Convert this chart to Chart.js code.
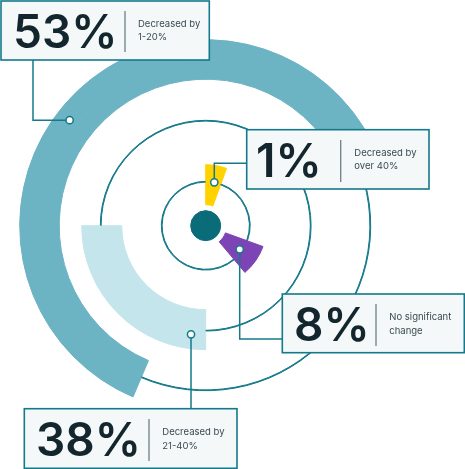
<!DOCTYPE html>
<html>
<head>
<meta charset="utf-8">
<script src="https://cdn.jsdelivr.net/npm/chart.js@4.4.1/dist/chart.umd.min.js"></script>
<style>
    html, body { margin: 0; background: #ffffff; }
    #wrap { position: relative; width: 465px; height: 469px; }
</style>
</head>
<body>
<div id="wrap"><canvas id="rings"></canvas></div>
<script>
// Shares of respondents per category
const categories = ['Decreased by 1-20%', 'Decreased by 21-40%', 'No significant change', 'Decreased by over 40%'];
const shares = [53, 38, 8, 1];
const shareLabels = ['53%', '38%', '8%', '1%'];
const captionLines = [['Decreased by', '1-20%'], ['Decreased by', '21-40%'], ['No significant', 'change'], ['Decreased by', 'over 40%']];
// Sweep of each drawn arc in degrees (not proportional to the share)
const arcSweep = [227, 90, 30, 20];

// Layout / style
const arcStart = [203, 180, 110, 0];       // degrees clockwise from 12 o'clock
const arcColors = ['#6cb3c3', '#c4e5ec', '#7c44b4', '#ffd200'];
const TEAL = '#14798a';
const DOT = '#0b6c79';
const INK = '#13262e';

// Build one ring: arcs placed at their angles, gaps filled with gapColor
function ringData(list, gapColor) {
    const sorted = list.slice().sort((a, b) => a.start - b.start);
    const rotation = sorted[0].start;
    const data = [], colors = [];
    let pos = rotation;
    sorted.forEach(a => {
        if (a.start > pos) { data.push(a.start - pos); colors.push(gapColor); }
        data.push(a.sweep); colors.push(a.color);
        pos = a.start + a.sweep;
    });
    if (pos < rotation + 360) { data.push(rotation + 360 - pos); colors.push(gapColor); }
    return { data, backgroundColor: colors, borderColor: colors, rotation };
}

const arcs = shares.map((v, i) => ({ start: arcStart[i], sweep: arcSweep[i], color: arcColors[i] }));
const outerBand = [arcs[0]];
const middleBand = [arcs[1]];
const innerBand = [arcs[3], arcs[2]];

const ring = (list, gap, weight) => Object.assign(ringData(list, gap), { weight, borderWidth: 1 });
const spacer = weight => ({ data: [1], backgroundColor: ['transparent'], borderWidth: 0, weight });

const datasets = [
    ring(outerBand, 'transparent', 21),
    ring(outerBand, TEAL, 0.8),
    ring(outerBand, 'transparent', 17.7),
    spacer(22.5),
    ring(middleBand, 'transparent', 18.6),
    ring(middleBand, TEAL, 0.8),
    ring(middleBand, 'transparent', 20.6),
    spacer(23),
    ring(innerBand, 'transparent', 16.6),
    ring(innerBand, TEAL, 0.8),
    ring(innerBand, 'transparent', 22.6),
    spacer(6),
    { data: [1], backgroundColor: [DOT], borderColor: [DOT], borderWidth: 1, weight: 15 }
];

// Callout boxes, markers (polar, relative to chart centre) and leader routes
const callouts = [
    { box: [1, 1, 208.3, 59], num: [13, 47.5], div: [125, 11, 52], cap: [138, 24, 37.5],
      marker: [307.8, 172.2], route: 'hv', to: [33, 60] },
    { box: [24.3, 408.7, 212.7, 59.6], num: [36, 455.7], div: [149, 419, 461], cap: [162.3, 432.3, 445.7],
      marker: [187.7, 109.6], route: 'vh', to: [null, 408.7] },
    { box: [282.3, 294, 182, 58.7], num: [294, 341], div: [376, 304, 346], cap: [389.3, 317.3, 330.7],
      marker: [124.8, 41.4], route: 'vh', to: [282.3, 339] },
    { box: [246.7, 129.7, 182.3, 59.3], num: [256, 176.7], div: [340.7, 140, 182], cap: [354.3, 153, 166.3],
      marker: [11.2, 44.2], route: 'vh', to: [246.7, 163.3] }
];

const calloutPlugin = {
    id: 'callouts',
    afterDatasetsDraw(chart) {
        const ctx = chart.ctx;
        const centre = chart.getDatasetMeta(datasets.length - 1).data[0];
        const cx = centre.x, cy = centre.y;
        const pts = callouts.map(c => {
            const a = c.marker[0] * Math.PI / 180;
            return [cx + c.marker[1] * Math.sin(a), cy - c.marker[1] * Math.cos(a)];
        });

        ctx.save();
        // leader lines
        ctx.strokeStyle = TEAL;
        ctx.lineWidth = 1.5;
        callouts.forEach((c, i) => {
            const [mx, my] = pts[i];
            const tx = c.to[0] === null ? mx : c.to[0];
            const ty = c.to[1];
            ctx.beginPath();
            ctx.moveTo(mx, my);
            if (c.route === 'hv') ctx.lineTo(tx, my);
            else ctx.lineTo(mx, ty);
            ctx.lineTo(tx, ty);
            ctx.stroke();
        });

        // boxes and text
        callouts.forEach((c, i) => {
            const [x, y, w, h] = c.box;
            ctx.fillStyle = '#f4f8f9';
            ctx.fillRect(x, y, w, h);
            ctx.strokeStyle = TEAL;
            ctx.lineWidth = 1.6;
            ctx.strokeRect(x, y, w, h);

            ctx.fillStyle = INK;
            ctx.font = '600 46px Inter';
            ctx.textAlign = 'left';
            ctx.textBaseline = 'alphabetic';
            ctx.fillText(shareLabels[i], c.num[0], c.num[1]);

            ctx.strokeStyle = '#6e7f84';
            ctx.lineWidth = 1.3;
            ctx.beginPath();
            ctx.moveTo(c.div[0], c.div[1]);
            ctx.lineTo(c.div[0], c.div[2]);
            ctx.stroke();

            ctx.fillStyle = '#3b4b51';
            ctx.font = '400 9.5px Inter';
            ctx.textBaseline = 'middle';
            ctx.fillText(captionLines[i][0], c.cap[0], c.cap[1]);
            ctx.fillText(captionLines[i][1], c.cap[0], c.cap[2]);
        });

        // markers
        pts.forEach(([mx, my]) => {
            ctx.beginPath();
            ctx.arc(mx, my, 3.6, 0, Math.PI * 2);
            ctx.fillStyle = '#ffffff';
            ctx.fill();
            ctx.strokeStyle = TEAL;
            ctx.lineWidth = 1.5;
            ctx.stroke();
        });
        ctx.restore();
    }
};

new Chart(document.getElementById('rings'), {
    type: 'doughnut',
    data: { labels: categories, datasets },
    options: {
        responsive: true,
        maintainAspectRatio: false,
        animation: false,
        events: [],
        cutout: 0,
        circumference: 360,
        layout: { padding: { left: 19.2, right: 72.8, top: 39.2, bottom: 56.8 } },
        plugins: {
            legend: { display: false },
            tooltip: { enabled: false }
        }
    },
    plugins: [calloutPlugin]
});
</script>
</body>
</html>
